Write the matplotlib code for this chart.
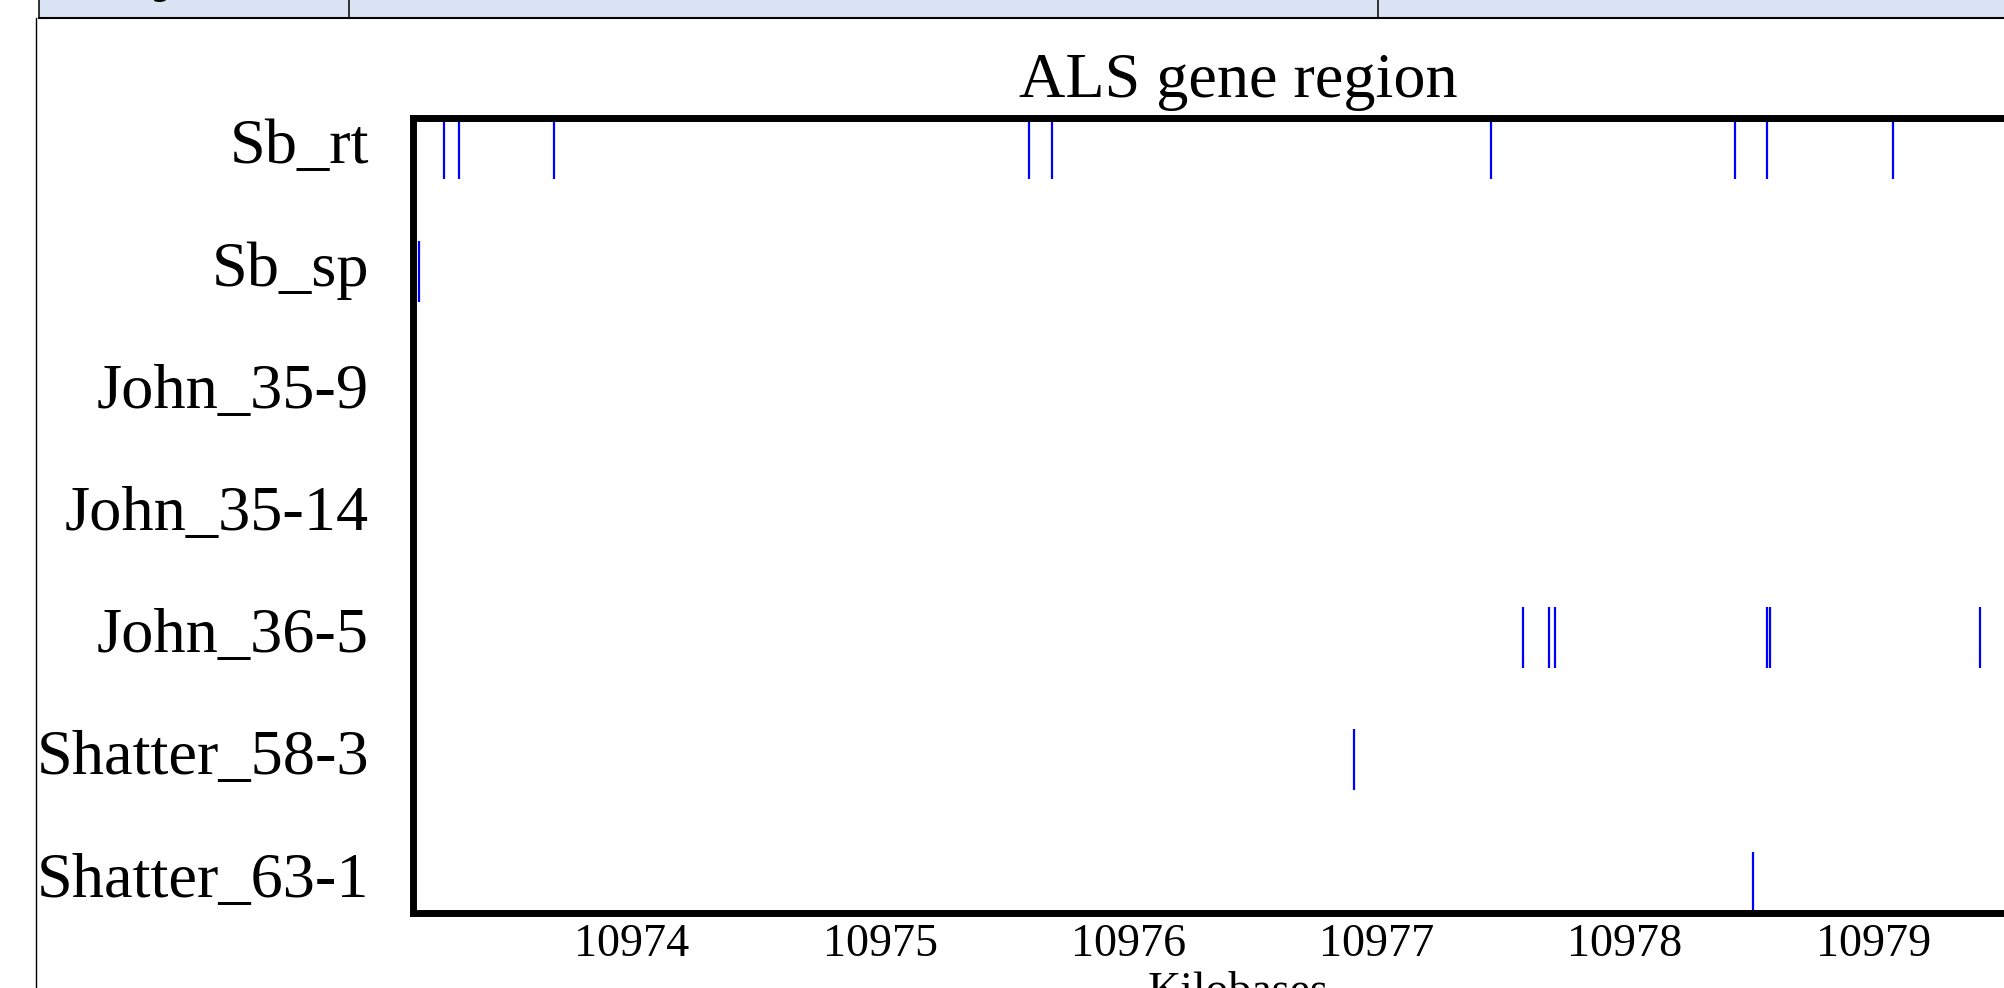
import matplotlib
matplotlib.use("Agg")
import matplotlib.pyplot as plt
from matplotlib.lines import Line2D
from matplotlib.patches import Rectangle
import matplotlib.transforms as mtransforms

# ---------------- data ----------------
samples = ["Sb_rt", "Sb_sp", "John_35-9", "John_35-14", "John_36-5",
           "Shatter_58-3", "Shatter_63-1"]
sb_rt = [10973.243, 10973.306, 10973.689, 10975.601, 10975.694,
         10977.462, 10978.444, 10978.574, 10979.079]
sb_sp = [10973.142]
john_35_9 = []
john_35_14 = []
john_36_5 = [10977.590, 10977.694, 10977.718, 10978.574, 10978.583, 10979.429]
shatter_58_3 = [10976.910]
shatter_63_1 = [10978.516]
snp_positions = [sb_rt, sb_sp, john_35_9, john_35_14, john_36_5,
                 shatter_58_3, shatter_63_1]
xtick_values = [10974, 10975, 10976, 10977, 10978, 10979]
xtick_labels = ["10974", "10975", "10976", "10977", "10978", "10979"]
title_text = "ALS gene region"
xlabel_text = "Kilobases"
x_range = (10973.118, 10979.768)

# ---------------- figure ----------------
W, H = 2004, 988
DPI = 100
plt.rcParams["font.family"] = ["Liberation Serif", "DejaVu Serif"]
fig = plt.figure(figsize=(W / DPI, H / DPI), dpi=DPI)
fig.patch.set_facecolor("white")


def fx(px):
    return px / W


def fy(py):
    return 1 - py / H


# page decoration: table header band and outer box
band = Rectangle((fx(38.5), fy(17.7)), fx(W + 20) - fx(38.5), fy(-5) - fy(17.7),
                 transform=fig.transFigure, facecolor="#dae3f3",
                 edgecolor="none", zorder=0)
fig.add_artist(band)
for xs, ys, lw in [([fx(38.5), fx(W + 20)], [fy(17.7), fy(17.7)], 1.5),
                   ([fx(38.5), fx(38.5)], [fy(-2), fy(17.7)], 1.1),
                   ([fx(348.5), fx(348.5)], [fy(-2), fy(17.7)], 1.1),
                   ([fx(1377.5), fx(1377.5)], [fy(-2), fy(17.7)], 1.1),
                   ([fx(36.3), fx(36.3)], [fy(18.2), fy(H + 5)], 1.0)]:
    fig.add_artist(Line2D(xs, ys, transform=fig.transFigure, color="black",
                          lw=lw, zorder=1))
# cut-off bottoms of header text in the band
for tx, ch in [(151, "g"), (203, "/")]:
    fig.text(fx(tx), fy(-4), ch, fontsize=20, fontweight="bold",
             family=["DejaVu Sans"], va="baseline", ha="left", zorder=2)

# axes (extends past the right edge as in the cropped reference)
left, right = 412.7, 2063.9
top, bottom = 118.3, 912.7
ax = fig.add_axes([fx(left), fy(bottom), fx(right) - fx(left), fy(top) - fy(bottom)])

offsets = list(range(len(samples)))
pos_nonempty = [p for p in snp_positions if len(p) > 0]
off_nonempty = [o for o, p in zip(offsets, snp_positions) if len(p) > 0]
ax.eventplot(pos_nonempty, lineoffsets=off_nonempty, linelengths=0.5,
             colors="blue", linewidths=1.6)

ax.set_xlim(*x_range)
ax.set_ylim(len(samples) - 0.75, -0.25)

ax.set_yticks(offsets)
ax.set_yticklabels(samples, fontsize=46.4)
ax.set_xticks(xtick_values)
ax.set_xticklabels(xtick_labels, fontsize=33.2)
ax.tick_params(axis="both", length=0)
ax.tick_params(axis="y", pad=31.5)
ax.tick_params(axis="x", pad=8)

ax.set_title(title_text, fontsize=46.2, pad=15)
ax.set_xlabel(xlabel_text, fontsize=33, labelpad=4)

for side in ["top", "left", "bottom", "right"]:
    ax.spines[side].set_linewidth(5)
    ax.spines[side].set_color("black")

shift = mtransforms.ScaledTranslation(0, 7.5 / DPI, fig.dpi_scale_trans)
for lab in ax.get_yticklabels():
    lab.set_transform(lab.get_transform() + shift)

fig.savefig("out.png", dpi=DPI, facecolor="white")
